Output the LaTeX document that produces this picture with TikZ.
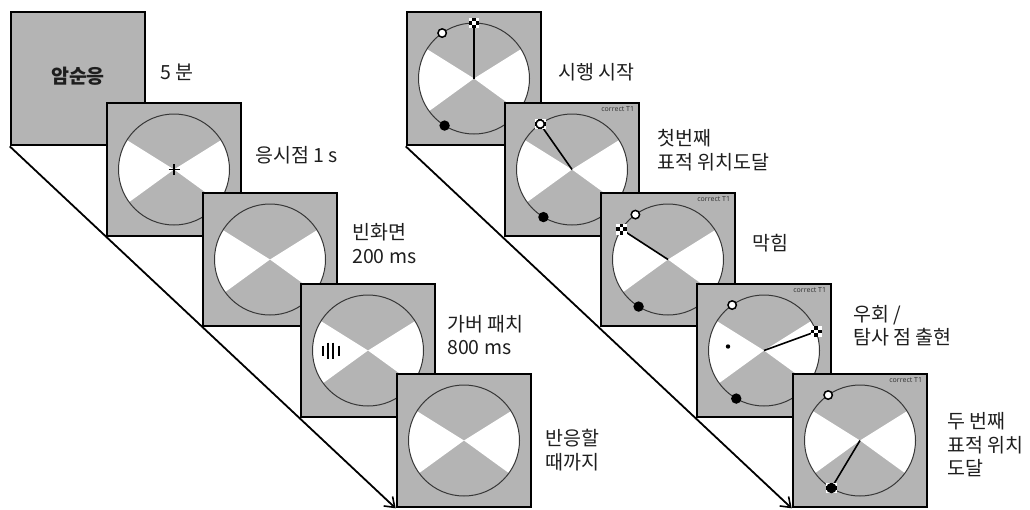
\documentclass[tikz,border=0pt]{standalone}
\usepackage{fontspec}
\newfontfamily\kr{Noto Sans CJK KR}
\newfontfamily\tagfont{Noto Sans}
\usetikzlibrary{arrows.meta}
\definecolor{panel}{RGB}{180,180,180}
\definecolor{rim}{RGB}{55,55,55}
\definecolor{ink}{RGB}{30,30,30}
\tikzset{
  % annulus display: grey field with two white horizontal wedges
  dial/.pic={
    \begin{scope}
      \clip (0,0) circle[radius=55.5];
      \fill[white] (0,0) -- (-32:90) -- (36:90) -- cycle;
      \fill[white] (0,0) -- (144:90) -- (212:90) -- cycle;
    \end{scope}
    \draw[rim, line width=1pt] (0,0) circle[radius=55.5];
  },
  ringmark/.pic={\draw[black, line width=1.5pt, fill=white] (0,0) circle[radius=4.2];},
  dotmark/.pic={\fill[black] (0,0) circle[radius=5.2];},
  checkmark/.pic={
    \fill[white] (-5.4,-5.4) rectangle (5.4,5.4);
    \fill[black] (-1.8,-5.4) rectangle (1.8,-1.8);
    \fill[black] (-5.4,-1.8) rectangle (-1.8,1.8);
    \fill[black] (1.8,-1.8) rectangle (5.4,1.8);
    \fill[black] (-1.8,1.8) rectangle (1.8,5.4);
  },
  screen/.style={draw=black, line width=2.6pt, fill=panel,
    minimum width=134pt, minimum height=133pt, inner sep=0pt},
  lab/.style={anchor=west, align=left, text=ink, inner sep=0pt,
    font=\kr\fontsize{19.5pt}{23.5pt}\selectfont},
  tag/.style={anchor=north east, inner sep=0pt, text=rim,
    font=\tagfont\fontsize{7pt}{8pt}\selectfont},
  pointer/.style={black, line width=1.6pt},
  timeline/.style={black, line width=1.8pt,
    -{Straight Barb[length=9pt,width=13pt,line width=1.6pt]}},
  stripe/.style={black, line width=2pt},
}
\begin{document}
\begin{tikzpicture}[x=1pt,y=-1pt]
\useasboundingbox (0,0) rectangle (1030,509);

% ---------- left sequence: trial timeline ----------
\node[screen] (L1) at (78,78.5) {};
\node[font=\kr\bfseries\fontsize{19.5pt}{23pt}\selectfont, text=ink] (L1t) at (78,76) {암순응};
\node[lab] (l1) at (160,72) {5 분};

\node[screen] (L2) at (174,169.5) {};
\pic at (L2.center) {dial};
\draw[black, line width=1.3pt] ([xshift=-5.5pt]L2.center) -- ([xshift=5.5pt]L2.center)
  ([yshift=-5.5pt]L2.center) -- ([yshift=5.5pt]L2.center);
\node[lab] (l2) at (255,155) {응시점 1 s};

\node[screen] (L3) at (270,259.5) {};
\pic at (L3.center) {dial};
\node[lab] (l3) at (352,243.5) {빈화면\\200 ms};

\node[screen] (L4) at (368,350.5) {};
\pic at (L4.center) {dial};
% Gabor patch: vertical grating in a round envelope
\begin{scope}[shift={(L4.center)}]
  \draw[stripe] (-45,-5) -- (-45,5);
  \draw[stripe] (-39.8,-8) -- (-39.8,8);
  \draw[stripe] (-34.6,-8) -- (-34.6,8);
  \draw[stripe] (-29.4,-5) -- (-29.4,5);
\end{scope}
\node[lab] (l4) at (447,335) {가버 패치\\800 ms};

\node[screen] (L5) at (464,440.5) {};
\pic at (L5.center) {dial};
\node[lab] (l5) at (545,450) {반응할\\때까지};

\draw[timeline] (L1.south west) -- (L5.south west);

% ---------- right sequence: reaching trial ----------
\node[screen] (R1) at (474,78.5) {};
\pic at (R1.center) {dial};
\coordinate (r1s) at ([shift={(-125:55.5)}]R1.center);
\coordinate (r1t) at ([shift={(-90:55.5)}]R1.center);
\coordinate (r1h) at ([shift={(122:55.5)}]R1.center);
\draw[pointer] (R1.center) -- (r1t);
\pic at (r1s) {ringmark};
\pic at (r1t) {checkmark};
\pic at (r1h) {dotmark};
\node[lab] (r1) at (558,72) {시행 시작};

\node[screen] (R2) at (572,169.5) {};
\pic at (R2.center) {dial};
\coordinate (r2s) at ([shift={(-125:55.5)}]R2.center);
\coordinate (r2h) at ([shift={(121:55.5)}]R2.center);
\draw[pointer] (R2.center) -- (r2s);
\pic at (r2s) {checkmark};
\pic at (r2s) {ringmark};
\pic at (r2h) {dotmark};
\node[tag] (c2) at ([xshift=-6pt, yshift=-5pt]R2.north east) {correct T1};
\node[lab] (r2) at (657,150) {첫번째\\표적 위치도달};

\node[screen] (R3) at (668,259.5) {};
\pic at (R3.center) {dial};
\coordinate (r3s) at ([shift={(-126:55.5)}]R3.center);
\coordinate (r3t) at ([shift={(-147:55.5)}]R3.center);
\coordinate (r3h) at ([shift={(122:55.5)}]R3.center);
\draw[pointer] (R3.center) -- (r3t);
\pic at (r3s) {ringmark};
\pic at (r3t) {checkmark};
\pic at (r3h) {dotmark};
\node[tag] (c3) at ([xshift=-6pt, yshift=-5pt]R3.north east) {correct T1};
\node[lab] (r3) at (752,243) {막힘};

\node[screen] (R4) at (764,350.5) {};
\pic at (R4.center) {dial};
\coordinate (r4s) at ([shift={(-125:55.5)}]R4.center);
\coordinate (r4t) at ([shift={(-20:55.5)}]R4.center);
\coordinate (r4h) at ([shift={(120:55.5)}]R4.center);
\coordinate (r4p) at ([shift={(-36,-4)}]R4.center);
\draw[pointer] (R4.center) -- (r4t);
\pic at (r4s) {ringmark};
\pic at (r4t) {checkmark};
\pic at (r4h) {dotmark};
\fill[black] (r4p) circle[radius=2.2];
\node[tag] (c4) at ([xshift=-6pt, yshift=-5pt]R4.north east) {correct T1};
\node[lab] (r4) at (853,325.5) {우회 /\\탐사 점 출현};

\node[screen] (R5) at (860,440.5) {};
\pic at (R5.center) {dial};
\coordinate (r5s) at ([shift={(-125:55.5)}]R5.center);
\coordinate (r5h) at ([shift={(121:55.5)}]R5.center);
\draw[pointer] (R5.center) -- (r5h);
\pic at (r5s) {ringmark};
\pic at (r5h) {checkmark};
\pic at (r5h) {dotmark};
\node[tag] (c5) at ([xshift=-6pt, yshift=-5pt]R5.north east) {correct T1};
\node[lab] (r5) at (947,445) {두 번째\\표적 위치\\도달};

\draw[timeline] (R1.south west) -- (R5.south west);
\end{tikzpicture}
\end{document}
